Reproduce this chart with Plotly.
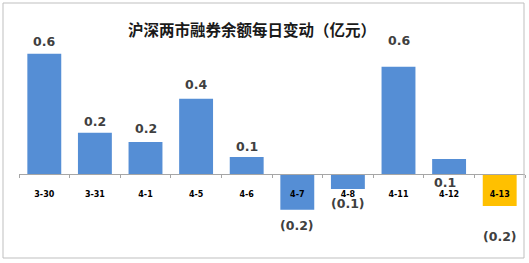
import plotly.graph_objects as go

categories = ["3-30", "3-31", "4-1", "4-5", "4-6", "4-7", "4-8", "4-11", "4-12", "4-13"]
values = [0.64, 0.22, 0.17, 0.40, 0.09, -0.19, -0.08, 0.57, 0.08, -0.17]
title_text = "沪深两市融券余额每日变动（亿元）"

# style lists (not data)
bar_colors = ["#558ED5"] * 9 + ["#FFC000"]
label_yshift = [12.5, 11.3, 13.7, 14.3, 10.3, -16, -14, 26, -24, -31]
label_xshift = [0, 0, 0, 0, 0, 0, 0, 0, -4, 0]

W, H = 529, 263
L, R, T, B = 19, 4, 20, 13
pw, ph = W - L - R, H - T - B
base_y = 174
scale = 188.0
y_top = (base_y - T) / scale
y_bot = -((H - B) - base_y) / scale


def fmt(v):
    return f"{v:.1f}" if v >= 0 else f"({abs(v):.1f})"


fig = go.Figure(go.Bar(
    x=categories, y=values, marker=dict(color=bar_colors, line=dict(width=0)),
    width=0.67, hoverinfo="skip",
))

for i, (c, v) in enumerate(zip(categories, values)):
    fig.add_annotation(x=c, y=v, text=fmt(v), showarrow=False,
                       yanchor="middle", xanchor="center",
                       yshift=label_yshift[i], xshift=label_xshift[i],
                       font=dict(family="DejaVu Sans", size=12.5, color="#404040", weight="bold"))

fig.add_annotation(xref="paper", yref="paper",
                   x=(252 - L) / pw, y=(H - 29 - B) / ph,
                   text=title_text, showarrow=False, xanchor="center", yanchor="middle",
                   font=dict(family="Noto Sans CJK SC", size=15.5, color="#1a1a1a", weight="bold"))

# outer border
fig.add_shape(type="rect", xref="paper", yref="paper",
              x0=(3 - L) / pw, x1=(524 - L) / pw,
              y0=(H - 258 - B) / ph, y1=(H - 3 - B) / ph,
              line=dict(color="#BFBFBF", width=1), fillcolor="rgba(0,0,0,0)", layer="above")

fig.update_layout(
    width=W, height=H, margin=dict(l=L, r=R, t=T, b=B, autoexpand=False),
    paper_bgcolor="white", plot_bgcolor="white", showlegend=False,
    xaxis=dict(type="category", showgrid=False, zeroline=False, showline=True,
               linecolor="#A6A6A6", linewidth=1,
               ticks="outside", ticklen=3, tickcolor="#A6A6A6", tickson="boundaries",
               tickfont=dict(family="DejaVu Sans", size=8, color="#000000", weight="bold"),
               ticklabelstandoff=12, anchor="free", position=((H - B) - base_y) / ph,
               automargin=False, layer="above traces"),
    yaxis=dict(range=[y_bot, y_top], showgrid=False, zeroline=False,
               showticklabels=False, ticks="", showline=False, automargin=False),
)
fig.write_html("out.html")
